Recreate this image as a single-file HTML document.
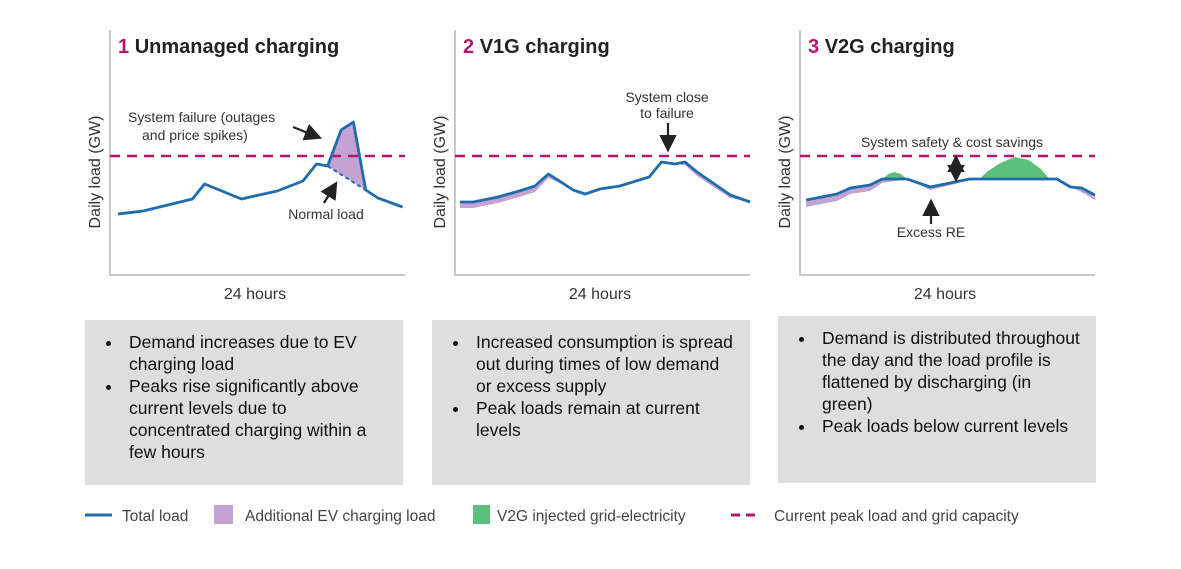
<!DOCTYPE html>
<html><head><meta charset="utf-8">
<style>
body{margin:0;background:#fff;width:1181px;height:569px;overflow:hidden;font-family:"Liberation Sans",Arial,sans-serif}
svg text{font-family:"Liberation Sans",Arial,sans-serif}
.box{position:absolute;background:#dedede;box-sizing:border-box;padding:11px 4px 0 14px;font-size:17.5px;line-height:22px;color:#111;white-space:nowrap}
.box ul{margin:0;padding:0 0 0 24px}
.box li{margin:0;padding-left:6px}
</style></head>
<body>
<svg id="chart" width="1181" height="569" style="position:absolute;left:0;top:0">
<defs><marker id="ah" markerWidth="8" markerHeight="8" refX="6" refY="4" orient="auto"><path d="M0,0L8,4L0,8z" fill="#222"/></marker></defs>
</svg>
<div class="box" style="left:85px;top:320px;width:318px;height:165px"><ul><li>Demand increases due to EV<br>charging load</li><li>Peaks rise significantly above<br>current levels due to<br>concentrated charging within a<br>few hours</li></ul></div>
<div class="box" style="left:432px;top:320px;width:318px;height:165px"><ul><li>Increased consumption is spread<br>out during times of low demand<br>or excess supply</li><li>Peak loads remain at current<br>levels</li></ul></div>
<div class="box" style="left:778px;top:316px;width:318px;height:167px"><ul><li>Demand is distributed throughout<br>the day and the load profile is<br>flattened by discharging (in<br>green)</li><li>Peak loads below current levels</li></ul></div>
<script>
// Panel 1 data (hours 0-24, load arbitrary GW units)
const p1Hours=[0.65,2.7,6.7,7.7,10.7,13.6,15.7,16.8,17.7,18.8,19.8,20.8,21.8,23.8];
const p1Total=[30.5,32,38,45.5,38,42,47,55.5,54.5,72.5,76.5,42.5,38.5,34];
const p1NormalHours=[17.7,20.8];
const p1Normal=[54.5,42.5];
// Panel 2
const p2Hours=[0.4,1.5,3.5,5.5,6.5,7.6,8.5,9.6,10.6,11.8,13.4,15.8,16.8,17.9,18.7,19.7,22.4,24];
const p2Total=[36.5,36.5,39,42.5,44.5,50.5,47,42.5,40.5,43,44.5,49,56.5,55.5,56.5,51.5,40,36.5];
const p2EV=[3,3,3,3,3,2,1,0,0,0,0,0,0,0,1.5,2,1.5,0];
// Panel 3
const p3Hours=[0.5,3,4.1,5.7,6.7,8.7,10.6,12.6,13.8,20.9,22,22.9,24];
const p3Total=[37.5,40.5,43.5,45,48,48,44,46.5,48,48,44,43.5,40];
const p3EV=[3.5,3.5,3,3,2,0,1.5,1,0,0,0,2,2.5];
const v2gSmallHours=[6.7,7.2,7.7,8.2,8.7];
const v2gSmall=[48,50.5,51.5,50.5,48];
const v2gBigHours=[14.6,15.3,16.3,17.5,18.6,19.6,20.3];
const v2gBig=[48,52,56,59,57.5,53,48];
const peakLevel=59.5;

const svg=document.getElementById('chart');
const NS='http://www.w3.org/2000/svg';
const BLUE='#1f6cad',PURP='#c4a2d2',GREEN='#5dbf7c',MAG='#b3156f';
function mk(tag,attrs,parent){const e=document.createElementNS(NS,tag);for(const k in attrs)e.setAttribute(k,attrs[k]);(parent||svg).appendChild(e);return e;}
function makeAxes(x0){return {x:h=>x0+h/24*295,y:v=>275-v*2};}
function pts(ax,hs,vs){return hs.map((h,i)=>ax.x(h).toFixed(1)+','+ax.y(vs[i]).toFixed(1));}
function txt(x,y,s,size,anchor,fill,weight){const t=mk('text',{x:x,y:y,'font-size':size,'text-anchor':anchor||'start',fill:fill||'#333','font-weight':weight||'normal'});t.textContent=s;return t;}
function frame(x0,num,title,name){
  const g=mk('g',{});
  
  
  const a=mk('path',{d:`M${x0},30V275H${x0+295}`,stroke:'#c8c8c8','stroke-width':2,fill:'none'},g);
  
  
  const t=mk('text',{x:x0+8,y:53,'font-size':20,'font-weight':'bold',fill:'#222'},g);
  
  
  const s=mk('tspan',{fill:MAG},t);s.textContent=num+' ';
  const s2=mk('tspan',{},t);s2.textContent=title;
  const xl=txt(x0+145,299,'24 hours',16,'middle','#333');
  
  
  const yl=txt(0,0,'Daily load (GW)',16,'middle','#333');
  yl.setAttribute('transform',`translate(${x0-10},172) rotate(-90)`);
  
  
  return g;
}
function peak(x0){const l=mk('line',{x1:x0,x2:x0+295,y1:275-peakLevel*2,y2:275-peakLevel*2,stroke:MAG,'stroke-width':2.5,'stroke-dasharray':'10,7'});
  
  }
function line(ax,hs,vs,name){const p=mk('polyline',{points:pts(ax,hs,vs).join(' '),fill:'none',stroke:BLUE,'stroke-width':2.8,'stroke-linejoin':'round'});
  
  }
function band(ax,hs,top,bot,color,name){const p=mk('polygon',{points:pts(ax,hs,top).concat(pts(ax,hs,bot).reverse()).join(' '),fill:color});
  
  }
function arrow(x1,y1,x2,y2){const a=mk('line',{x1,y1,x2,y2,stroke:'#222','stroke-width':2.2,'marker-end':'url(#ah)'});
  
  }

// Panel 1
frame(110,'1','Unmanaged charging','panel-unmanaged');
const a1=makeAxes(110);
const i0=p1Hours.indexOf(p1NormalHours[0]),i1=p1Hours.indexOf(p1NormalHours[1]);
const evH=p1Hours.slice(i0,i1+1),evT=p1Total.slice(i0,i1+1);
const evB=evH.map(h=>p1Normal[0]+(p1Normal[1]-p1Normal[0])*(h-p1NormalHours[0])/(p1NormalHours[1]-p1NormalHours[0]));
band(a1,evH,evT,evB,PURP,'ev-charging-area');
peak(110);
line(a1,p1Hours,p1Total,'total-load-line');
const nl=mk('polyline',{points:pts(a1,p1NormalHours,p1Normal).join(' '),fill:'none',stroke:'#1f6cad','stroke-width':2,'stroke-dasharray':'4,3'});


txt(128,122,'System failure (outages',14,'start','#333');
txt(142,140,'and price spikes)',14,'start','#333');
arrow(293,127,318,137);
txt(326,219,'Normal load',14,'middle','#333');
arrow(324,203,335,185);

// Panel 2
frame(455,'2','V1G charging','panel-v1g');
const a2=makeAxes(455);
band(a2,p2Hours,p2Total,p2Total.map((v,i)=>v-p2EV[i]),PURP,'ev-charging-area');
peak(455);
line(a2,p2Hours,p2Total,'total-load-line');
txt(667,102,'System close',14,'middle','#333');
txt(667,118,'to failure',14,'middle','#333');
arrow(668,123,668,148);

// Panel 3
frame(800,'3','V2G charging','panel-v3g');
const a3=makeAxes(800);
band(a3,p3Hours,p3Total,p3Total.map((v,i)=>v-p3EV[i]),PURP,'ev-charging-area');
band(a3,v2gSmallHours,v2gSmall,v2gSmall.map(()=>48),GREEN,'v2g-injection-area');
band(a3,v2gBigHours,v2gBig,v2gBig.map(()=>48),GREEN,'v2g-injection-area');
peak(800);
line(a3,p3Hours,p3Total,'total-load-line');
txt(952,147,'System safety & cost savings',14,'middle','#333');
arrow(956,168,956,159);arrow(956,166,956,178);
arrow(931,224,931,203);
txt(931,237,'Excess RE',14,'middle','#333');

// Legend
const lg=mk('g',{});


mk('line',{x1:85,x2:112,y1:515,y2:515,stroke:BLUE,'stroke-width':3},lg);
txt(122,521,'Total load',15.5,'start','#444');
mk('rect',{x:214,y:505,width:19,height:19,fill:PURP},lg);
txt(245,521,'Additional EV charging load',15.5,'start','#444');
mk('rect',{x:473,y:505,width:17,height:19,fill:GREEN},lg);
txt(497,521,'V2G injected grid-electricity',15.5,'start','#444');
mk('line',{x1:731,x2:756,y1:515,y2:515,stroke:MAG,'stroke-width':3,'stroke-dasharray':'9,6'},lg);
txt(774,521,'Current peak load and grid capacity',15.5,'start','#444');
</script>
</body></html>
